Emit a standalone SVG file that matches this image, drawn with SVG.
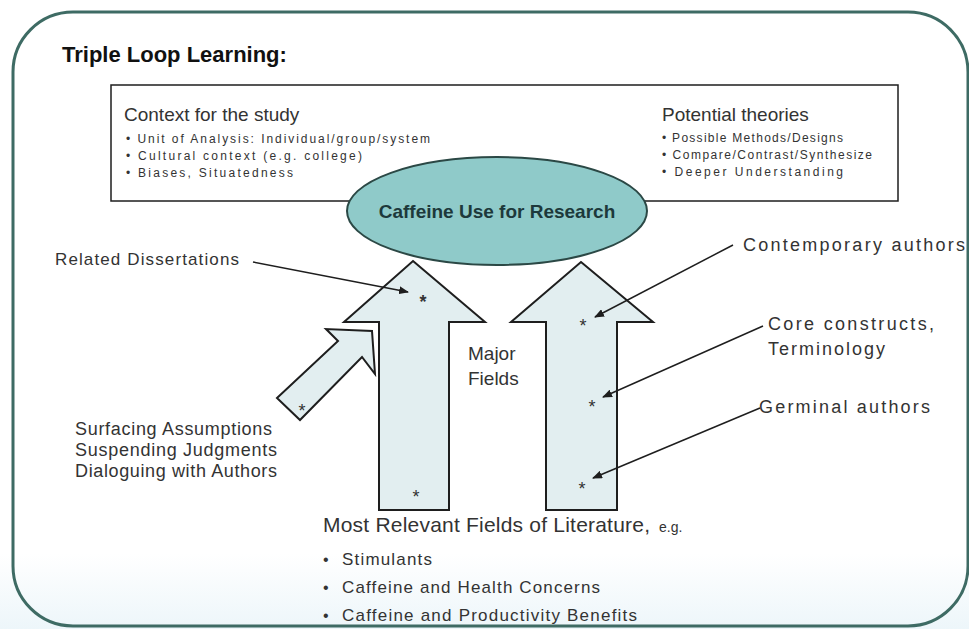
<svg xmlns="http://www.w3.org/2000/svg" width="969" height="629" viewBox="0 0 969 629">
<style>
.t{font-family:"Liberation Sans",Arial,sans-serif;fill:#333;}
.b{font-weight:bold;}
.arrow{fill:#e2eef0;stroke:#1e1e1e;stroke-width:2;stroke-linejoin:miter;}
.lead{stroke:#1e1e1e;stroke-width:1.5;fill:none;marker-end:url(#ah);}
.star{font-family:"Liberation Sans",Arial,sans-serif;font-size:18px;fill:#333;text-anchor:middle;}
</style>
<defs>
<marker id="ah" markerWidth="10" markerHeight="8" refX="9" refY="4" orient="auto" markerUnits="userSpaceOnUse">
<path d="M0,0 L10,4 L0,8 z" fill="#1e1e1e"/>
</marker>
<linearGradient id="bg" x1="0" y1="0" x2="0" y2="1">
<stop offset="0.88" stop-color="#ffffff"/>
<stop offset="1" stop-color="#edf6fa"/>
</linearGradient>
</defs>
<rect x="0" y="0" width="969" height="629" fill="url(#bg)"/>
<g id="frame">
<rect x="13" y="12" width="955" height="614" rx="60" ry="60" fill="none" stroke="#3e6b64" stroke-width="3"/>
</g>
<g id="title">
<text class="t b" x="62" y="62" font-size="22" style="fill:#111">Triple Loop Learning:</text>
</g>
<g id="context-box">
<rect x="111" y="85" width="787" height="116" fill="#fff" stroke="#1e1e1e" stroke-width="1.5"/>
<text class="t" x="124" y="121" font-size="19">Context for the study</text>
<text class="t" x="126" y="143" font-size="12" textLength="304">• Unit of Analysis:  Individual/group/system</text>
<text class="t" x="126" y="160" font-size="12" textLength="236">• Cultural context  (e.g. college)</text>
<text class="t" x="126" y="177" font-size="12" textLength="167">• Biases,  Situatedness</text>
<text class="t" x="662" y="121" font-size="19">Potential theories</text>
<text class="t" x="662" y="142" font-size="12" textLength="181">• Possible  Methods/Designs</text>
<text class="t" x="662" y="159" font-size="12" textLength="210">• Compare/Contrast/Synthesize</text>
<text class="t" x="662" y="176" font-size="12" textLength="181">• Deeper  Understanding</text>
</g>
<g id="caffeine-node">
<ellipse cx="497" cy="211" rx="150" ry="54" fill="#8fcac9" stroke="#2b4845" stroke-width="2"/>
<text class="t b" x="497" y="218" font-size="19" text-anchor="middle" style="fill:#1d393b">Caffeine Use for Research</text>
</g>
<g id="left-arrow">
<polygon class="arrow" points="413,261 485,322 449,322 449,510 379,510 379,322 344,322"/>
<text class="star b" x="423" y="308">*</text>
<text class="star" x="416" y="503">*</text>
</g>
<g id="right-arrow">
<polygon class="arrow" points="581,262 653,322 617,322 617,510 546,510 546,322 511,322"/>
<text class="star" x="583" y="332">*</text>
<text class="star" x="592" y="413">*</text>
<text class="star" x="582" y="495">*</text>
</g>
<g id="small-arrow">
<polygon class="arrow" points="277,398 338,341 326,329 372,331 375,374 362,357 300,420"/>
<text class="star" x="302" y="417">*</text>
</g>
<g id="labels">
<text class="t" x="55" y="265" font-size="17" textLength="184">Related Dissertations</text>
<text class="t" x="743" y="251" font-size="18" textLength="222">Contemporary authors</text>
<text class="t" x="768" y="330" font-size="18" textLength="166">Core constructs,</text>
<text class="t" x="768" y="355" font-size="18" textLength="117">Terminology</text>
<text class="t" x="759" y="413" font-size="18" textLength="171">Germinal authors</text>
<text class="t" x="468" y="360" font-size="19">Major</text>
<text class="t" x="468" y="385" font-size="19">Fields</text>
<text class="t" x="75" y="435" font-size="18" textLength="197">Surfacing Assumptions</text>
<text class="t" x="75" y="456" font-size="18" textLength="202">Suspending  Judgments</text>
<text class="t" x="75" y="477" font-size="18" textLength="202">Dialoguing  with Authors</text>
<text class="t" x="323" y="532" font-size="21" textLength="327">Most Relevant Fields  of Literature,</text>
<text class="t" x="659" y="532" font-size="14">e.g.</text>
<text class="t" x="323" y="565" font-size="16">•</text>
<text class="t" x="342" y="565" font-size="17" textLength="90">Stimulants</text>
<text class="t" x="323" y="593" font-size="16">•</text>
<text class="t" x="342" y="593" font-size="17" textLength="258">Caffeine and Health Concerns</text>
<text class="t" x="323" y="621" font-size="16">•</text>
<text class="t" x="342" y="621" font-size="17" textLength="295">Caffeine and Productivity Benefits</text>
</g>
<g id="connectors">
<line class="lead" x1="253" y1="262" x2="408" y2="292"/>
<line class="lead" x1="733" y1="245" x2="595" y2="317"/>
<line class="lead" x1="763" y1="326" x2="603" y2="397"/>
<line class="lead" x1="760" y1="408" x2="593" y2="478"/>
</g>
</svg>
